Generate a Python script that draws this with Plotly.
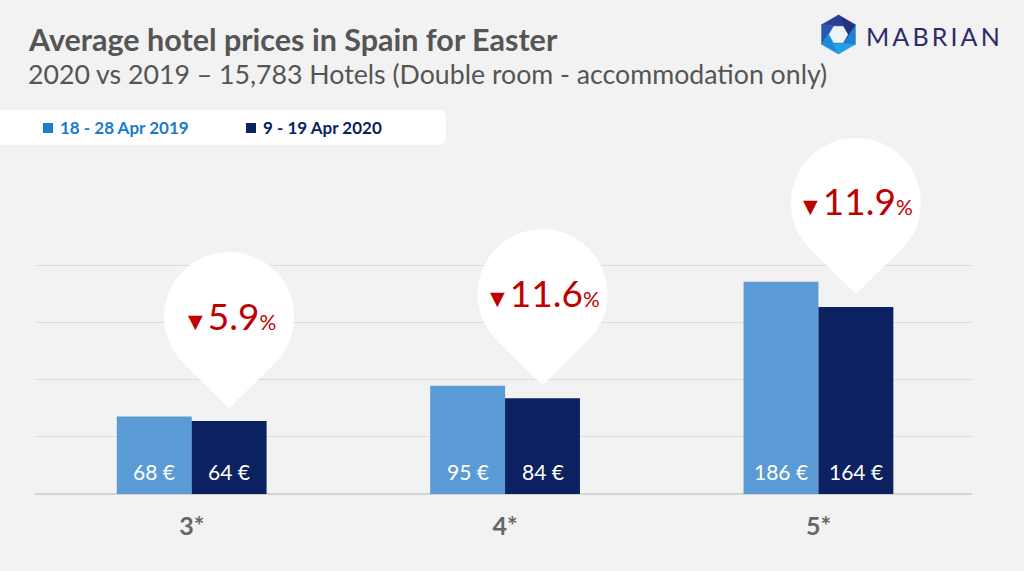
import numpy as np
import plotly.graph_objects as go

categories = ["3*", "4*", "5*"]
prices_2019 = [68, 95, 186]
prices_2020 = [64, 84, 164]
pct_change = [5.9, 11.6, 11.9]
series_names = ["18 - 28 Apr 2019", "9 - 19 Apr 2020"]

W, H = 1024, 571
Y_MAX = 320
ML, MR, MB = 35, 52, 77
PH = round(Y_MAX * 228 / 200)
MT = H - MB - PH
PW = W - ML - MR
BAR_W = 0.239
BG = "#f2f2f2"
LIGHT = "#5b9bd5"
DARK = "#0c2160"
RED = "#c00000"
FONT = "Lato"


def xp(px):
    return (px - ML) / PW


def yp(py):
    return (H - MB - py) / PH


xs = list(range(len(categories)))
fig = go.Figure()
fig.add_trace(go.Bar(x=xs, y=prices_2019, name=series_names[0], width=BAR_W,
                     offset=-BAR_W, marker=dict(color=LIGHT, line=dict(width=0)),
                     hoverinfo="skip"))
fig.add_trace(go.Bar(x=xs, y=prices_2020, name=series_names[1], width=BAR_W,
                     offset=0, marker=dict(color=DARK, line=dict(width=0)),
                     hoverinfo="skip"))

shapes = []
annotations = []

# value labels inside bars
for i, (a, b) in enumerate(zip(prices_2019, prices_2020)):
    for xv, v in ((i - BAR_W / 2, a), (i + BAR_W / 2, b)):
        annotations.append(dict(x=xv, y=0, xref="x", yref="y", text=f"{v} €",
                                showarrow=False, yanchor="bottom", yshift=8,
                                font=dict(family=FONT, size=21, color="white")))

# pins
R, D, TIP = 65, 91, 13
ang = np.degrees(np.arccos(R / D))
th = np.radians(np.linspace(-90 + ang, 270 - ang, 90))
cy = TIP + D
pts = [(0, TIP)] + [(R * np.cos(t), cy + R * np.sin(t)) for t in th]
path = "M " + " L ".join(f"{x:.2f},{y:.2f}" for x, y in pts) + " Z"
for i, (b, p) in enumerate(zip(prices_2020, pct_change)):
    shapes.append(dict(type="path", xref="x", yref="y", xsizemode="pixel", ysizemode="pixel",
                       xanchor=i + BAR_W / 2, yanchor=b, path=path,
                       fillcolor="white", line=dict(width=0), layer="above"))
    annotations.append(dict(x=i + BAR_W / 2, y=b, xref="x", yref="y", yshift=cy + 2,
                            showarrow=False, yanchor="middle",
                            text=f"<span style='font-size:25px'>▼</span>{p}<span style='font-size:21px'>%</span>",
                            font=dict(family=FONT, size=37, color=RED)))

# title & subtitle
annotations.append(dict(x=xp(26), y=yp(39), xref="paper", yref="paper", xanchor="left",
                        yanchor="middle", showarrow=False,
                        text="<b>Average hotel prices in Spain for Easter</b>",
                        font=dict(family=FONT, size=30.5, color="#555555")))
annotations.append(dict(x=xp(26), y=yp(74), xref="paper", yref="paper", xanchor="left",
                        yanchor="middle", showarrow=False,
                        text="2020 vs 2019 – 15,783 Hotels (Double room - accommodation only)",
                        font=dict(family=FONT, size=26.7, color="#555555")))

# legend box (rounded rect)
def rrect(x0, y0, x1, y1, r):
    p = [(x0 + r, y0), (x1 - r, y0), ("Q", x1, y0, x1, y0 + r), (x1, y1 - r),
         ("Q", x1, y1, x1 - r, y1), (x0 + r, y1), ("Q", x0, y1, x0, y1 - r),
         (x0, y0 + r), ("Q", x0, y0, x0 + r, y0)]
    s = f"M {xp(p[0][0]):.5f},{yp(p[0][1]):.5f}"
    for q in p[1:]:
        if q[0] == "Q":
            s += f" Q {xp(q[1]):.5f},{yp(q[2]):.5f} {xp(q[3]):.5f},{yp(q[4]):.5f}"
        else:
            s += f" L {xp(q[0]):.5f},{yp(q[1]):.5f}"
    return s + " Z"


shapes.append(dict(type="path", xref="paper", yref="paper", path=rrect(-20, 110, 446, 145, 8),
                   fillcolor="white", line=dict(width=0), layer="below"))
leg_items = [(43, "#1a7bc9", series_names[0]), (246, DARK, series_names[1])]
for x0, col, name in leg_items:
    shapes.append(dict(type="rect", xref="paper", yref="paper", x0=xp(x0), x1=xp(x0 + 10),
                       y0=yp(123), y1=yp(133), fillcolor=col, line=dict(width=0)))
    annotations.append(dict(x=xp(x0 + 15), y=yp(128), xref="paper", yref="paper",
                            xanchor="left", yanchor="middle", showarrow=False,
                            text=f"<b>{name}</b>", font=dict(family=FONT, size=17, color=col)))

# logo
cxl, cyl, Ro, Ri = 838.5, 34.5, 19.5, 9.5
outer = [(cxl + Ro * np.cos(np.radians(90 + 60 * k)), cyl - Ro * np.sin(np.radians(90 + 60 * k))) for k in range(6)]
inner = [(cxl + Ri * np.cos(np.radians(60 * k)), cyl - Ri * np.sin(np.radians(60 * k))) for k in range(6)]
seg_cols = ["#2b3f96", "#2a55b0", "#1f8ad8", "#26a0e6", "#1f7fd0", "#22337f"]
for k in range(6):
    a, b = outer[k], outer[(k + 1) % 6]
    c, d = inner[(k + 1) % 6], inner[k]
    pts_ = [a, b, c, d]
    s = "M " + " L ".join(f"{xp(x):.5f},{yp(y):.5f}" for x, y in pts_) + " Z"
    shapes.append(dict(type="path", xref="paper", yref="paper", path=s,
                       fillcolor=seg_cols[k], line=dict(width=0.6, color=seg_cols[k])))
s = "M " + " L ".join(f"{xp(x):.5f},{yp(y):.5f}" for x, y in inner) + " Z"
shapes.append(dict(type="path", xref="paper", yref="paper", path=s,
                   fillcolor="#eef3fa", line=dict(width=0)))
annotations.append(dict(x=xp(864), y=yp(36), xref="paper", yref="paper", xanchor="left",
                        yanchor="middle", showarrow=False,
                        text="\u2009".join("MABRIAN"),
                        font=dict(family=FONT, size=25, color="#2e2a6b")))

fig.update_layout(
    width=W, height=H,
    margin=dict(l=ML, r=MR, t=MT, b=MB, pad=0),
    paper_bgcolor=BG, plot_bgcolor=BG,
    barmode="overlay", showlegend=False,
    shapes=shapes, annotations=annotations,
    xaxis=dict(range=[-0.5, 2.49], tickvals=xs, ticktext=[f"<b>{c}</b>" for c in categories],
               tickfont=dict(family=FONT, size=25, color="#666666"), showgrid=False,
               zeroline=False, showline=False, ticks="outside", ticklen=10,
               tickcolor="rgba(0,0,0,0)", fixedrange=True),
    yaxis=dict(range=[0, Y_MAX], tickvals=[0, 50, 100, 150, 200], showticklabels=False,
               showgrid=True, gridcolor="#dddddd", gridwidth=1, zeroline=True,
               zerolinecolor="#d3d3d3", zerolinewidth=2, fixedrange=True),
)

fig.write_html("out.html", config={"displayModeBar": False})
